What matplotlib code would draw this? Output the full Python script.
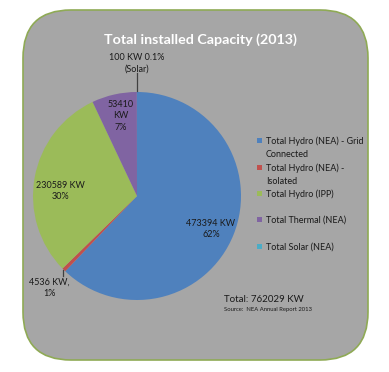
import matplotlib.pyplot as plt
from matplotlib.patches import FancyBboxPatch, Rectangle

plt.rcParams['font.family'] = ['Lato', 'DejaVu Sans']

# Data (kW)
sources = ["Total Hydro (NEA) - Grid\nConnected", "Total Hydro (NEA) -\nIsolated",
           "Total Hydro (IPP)", "Total Thermal (NEA)", "Total Solar (NEA)"]
capacity = [473394, 4536, 230589, 53410, 100]
colors = ["#4F81BD", "#C0504D", "#9BBB59", "#8064A2", "#4BACC6"]
total = 762029

W, H = 389, 372
fig = plt.figure(figsize=(W / 100, H / 100), dpi=100)
ax = fig.add_axes([0, 0, 1, 1])

# rounded grey panel
panel = FancyBboxPatch((23, 12), 345, 350, boxstyle="round,pad=0,rounding_size=48",
                       facecolor="#A6A6A6", edgecolor="#8FAA55", linewidth=1.2)
ax.add_patch(panel)

ax.text(200, 332, "Total installed Capacity (2013)", color="white", fontsize=10.3,
        fontweight="bold", ha="center", va="center")

# pie
cx, cy, r = 137, 176, 104
wedges, _ = ax.pie(capacity, colors=colors, startangle=90, counterclock=False,
                   center=(cx, cy), radius=r, frame=True,
                   wedgeprops=dict(linewidth=0))
ax.set_xlim(0, W)
ax.set_ylim(0, H)
ax.set_aspect('equal')
ax.axis('off')

fs = 6.5
tc = "#1a1a1a"
ax.text(211, 143, "473394 KW\n62%", fontsize=fs, ha="center", va="center",
        linespacing=1.4, color=tc)
ax.text(60, 181, "230589 KW\n30%", fontsize=fs, ha="center", va="center",
        linespacing=1.4, color=tc)
ax.text(121, 256, "53410\nKW\n7%", fontsize=fs, ha="center", va="center",
        linespacing=1.4, color=tc)
ax.text(137, 309, "100 KW 0.1%\n(Solar)", fontsize=fs, ha="center", va="center",
        linespacing=1.4, color=tc)
ax.plot([137, 137], [281, 299], color="#404040", lw=0.9)
ax.text(49, 84, "4536 KW,\n1%", fontsize=fs, ha="center", va="center",
        linespacing=1.4, color=tc)
ax.plot([63, 63], [96, 102], color="#404040", lw=0.9)

# legend
rows = [232, 205, 179, 153, 126]
for w, lab, y in zip(wedges, sources, rows):
    ax.add_patch(Rectangle((257, y - 2.5), 5, 5, facecolor=w.get_facecolor(), lw=0))
    ax.text(266, y + 3.5, lab, fontsize=fs, ha="left", va="top", linespacing=1.5,
            color=tc)

ax.text(224, 73, "Total: %d KW" % total, fontsize=7, ha="left", va="center",
        color=tc)
ax.text(224, 63, "Source:  NEA Annual Report 2013", fontsize=4.2, ha="left",
        va="center", color=tc)

fig.savefig("out.png", dpi=100)
